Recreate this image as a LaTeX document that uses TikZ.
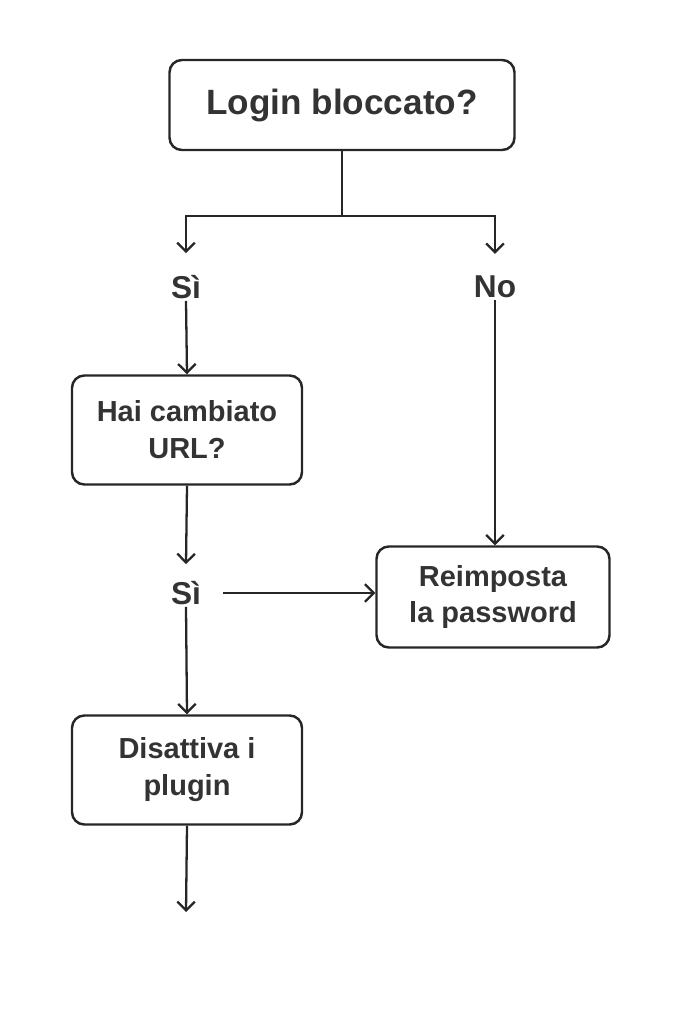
\documentclass[tikz,border=0pt]{standalone}
\usepackage{fontspec}
\setmainfont{Liberation Sans}
\usetikzlibrary{positioning,arrows.meta}
\tikzset{
    stepBox/.style={draw, line width=1.4pt, rounded corners=7pt, align=center, inner sep=0pt,
        minimum width=230*0.02cm, minimum height=109*0.02cm, font=\fontsize{16.5}{21}\selectfont\bfseries},
    answer/.style={inner sep=1pt, font=\fontsize{18}{21}\selectfont\bfseries},
    flow/.style={line width=1.3pt, -{Straight Barb[length=5pt,width=10pt,line width=1.3pt]}}
}
\begin{document}
\begin{tikzpicture}[x=0.02cm, y=-0.02cm, text=black!80, draw=black!85]
	\useasboundingbox (0,0) rectangle (683,1024);
	\node[stepBox, minimum width=345*0.02cm, minimum height=90*0.02cm, font=\fontsize{20}{24}\selectfont\bfseries] (login) at (342,105) {Login bloccato?};
	\coordinate (split) at (342,216);
	\node[answer] (si1) at (186,287) {Sì};
	\node[answer] (no) at (495,287) {No};
	\node[stepBox] (url) at (187,430) {Hai cambiato\\URL?};
	\node[answer] (si2) at (186,593) {Sì};
	\node[stepBox, minimum width=233*0.02cm, minimum height=101*0.02cm] (reset) at (493,597) {Reimposta\\la password};
	\node[stepBox] (plugin) at (187,770) {Disattiva i\\plugin};
	\coordinate (fine) at (186,912);
	% rami della prima domanda
	\draw[line width=1.3pt] (login.south) -- (split);
	\draw[flow] (split) -| ([yshift=20*0.02cm]si1.north);
	\draw[flow] (split) -| ([yshift=20*0.02cm]no.north);
	\draw[flow] (si1.south) -- (url.north);
	\draw[flow] (no.south) -- (no.south |- reset.north);
	% seconda domanda
	\draw[flow] (url.south) -- ([yshift=15*0.02cm]si2.north);
	\draw[flow] ([xshift=20*0.02cm]si2.east) -- (reset.west |- si2.east);
	\draw[flow] (si2.south) -- (plugin.north);
	\draw[flow] (plugin.south) -- (fine);
\end{tikzpicture}
\end{document}
